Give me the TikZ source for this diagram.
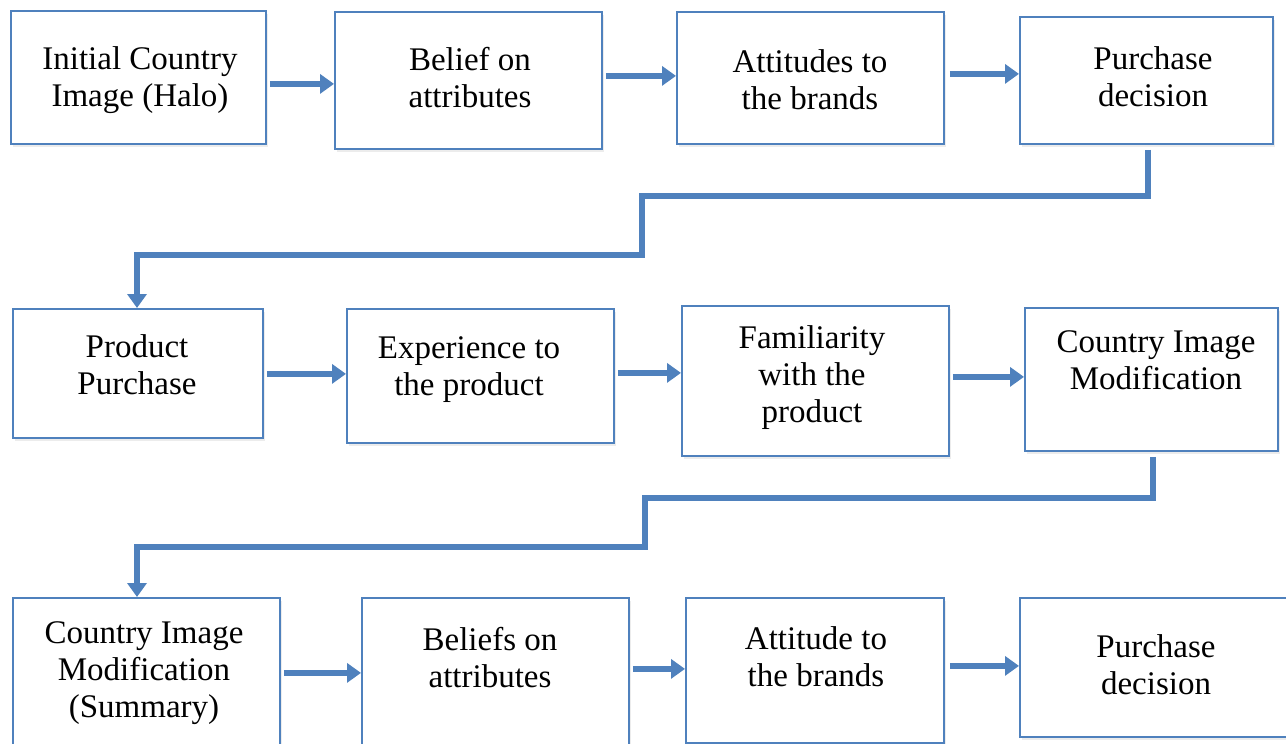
\documentclass[tikz,border=0pt]{standalone}
\usepackage{fontspec}
\setmainfont{Liberation Serif}
\usetikzlibrary{arrows.meta,calc,shadows}
\definecolor{obl}{HTML}{4F81BD}
\begin{document}
\begin{tikzpicture}[x=1pt,y=-1pt,
 box/.style={draw=obl, line width=1.8pt, fill=white, inner sep=0pt, anchor=north west,
   drop shadow={opacity=0.15, shadow xshift=2pt, shadow yshift=-3pt}},
 lbl/.style={align=center, font=\fontsize{33}{37}\selectfont, inner sep=0pt},
 arr/.style={draw=obl, line width=6pt, -{Triangle[length=14pt,width=19pt]}}]
\useasboundingbox (0,0) rectangle (1286,744);
\begin{scope}
\clip (0,0) rectangle (1286,744);
% row 1
\node[box, minimum width=255pt, minimum height=133pt] (b1) at (10,10) {};
\node[box, minimum width=267pt, minimum height=137pt] (b2) at (334,11) {};
\node[box, minimum width=267pt, minimum height=132pt] (b3) at (676,11) {};
\node[box, minimum width=253pt, minimum height=127pt] (b4) at (1019,16) {};
% row 2
\node[box, minimum width=250pt, minimum height=129pt] (b5) at (12,308) {};
\node[box, minimum width=267pt, minimum height=134pt] (b6) at (346,308) {};
\node[box, minimum width=267pt, minimum height=150pt] (b7) at (681,305) {};
\node[box, minimum width=253pt, minimum height=143pt] (b8) at (1024,307) {};
% row 3
\node[box, minimum width=267pt, minimum height=163pt] (b9) at (12,597) {};
\node[box, minimum width=267pt, minimum height=163pt] (b10) at (361,597) {};
\node[box, minimum width=258pt, minimum height=145pt] (b11) at (685,597) {};
\node[box, minimum width=273pt, minimum height=139pt] (b12) at (1019,597) {};
\end{scope}
% labels
\node[lbl] (t1) at (140,80.5) {Initial Country\\Image (Halo)};
\node[lbl] (t2) at (470,78) {Belief on\\attributes};
\node[lbl] (t3) at (810,79.5) {Attitudes to\\the brands};
\node[lbl] (t4) at (1153,77) {Purchase\\decision};
\node[lbl] (t5) at (137,365) {Product\\Purchase};
\node[lbl] (t6) at (469,369.5) {Experience to\\the product};
\node[lbl] (t7) at (812,378) {Familiarity\\with the\\product};
\node[lbl] (t8) at (1156,360) {Country Image\\Modification};
\node[lbl] (t9) at (144,673) {Country Image\\Modification\\(Summary)};
\node[lbl] (t10) at (490,657.5) {Beliefs on\\attributes};
\node[lbl] (t11) at (816,657) {Attitude to\\the brands};
\node[lbl] (t12) at (1156,664.5) {Purchase\\decision};
% horizontal arrows
\path (b1.east) ++(3,6.5) coordinate (a1);
\path (b2.east) ++(3,-4.5) coordinate (a2);
\path (b3.east) ++(5,-4) coordinate (a3);
\path (b5.east) ++(3,0.5) coordinate (a4);
\path (b6.east) ++(3,-3) coordinate (a5);
\path (b7.east) ++(3,-4) coordinate (a6);
\path (b9.east) ++(3,-6.5) coordinate (a7);
\path (b10.east) ++(3,-10.5) coordinate (a8);
\path (b11.east) ++(5,-4.5) coordinate (a9);
\draw[arr] (a1) -- (a1 -| b2.west);
\draw[arr] (a2) -- (a2 -| b3.west);
\draw[arr] (a3) -- (a3 -| b4.west);
\draw[arr] (a4) -- (a4 -| b6.west);
\draw[arr] (a5) -- (a5 -| b7.west);
\draw[arr] (a6) -- (a6 -| b8.west);
\draw[arr] (a7) -- (a7 -| b10.west);
\draw[arr] (a8) -- (a8 -| b11.west);
\draw[arr] (a9) -- (a9 -| b12.west);
% elbow connectors
\coordinate (k1) at (642,196);
\coordinate (k2) at (137,255);
\coordinate (k3) at (645,498);
\coordinate (k4) at (137,547);
\draw[arr] ($(b4.south)+(1.5,5)$) |- (k1) |- (k2) -- (k2 |- b5.north);
\draw[arr] ($(b8.south)+(1.5,5)$) |- (k3) |- (k4) -- (k4 |- b9.north);
\end{tikzpicture}
\end{document}
